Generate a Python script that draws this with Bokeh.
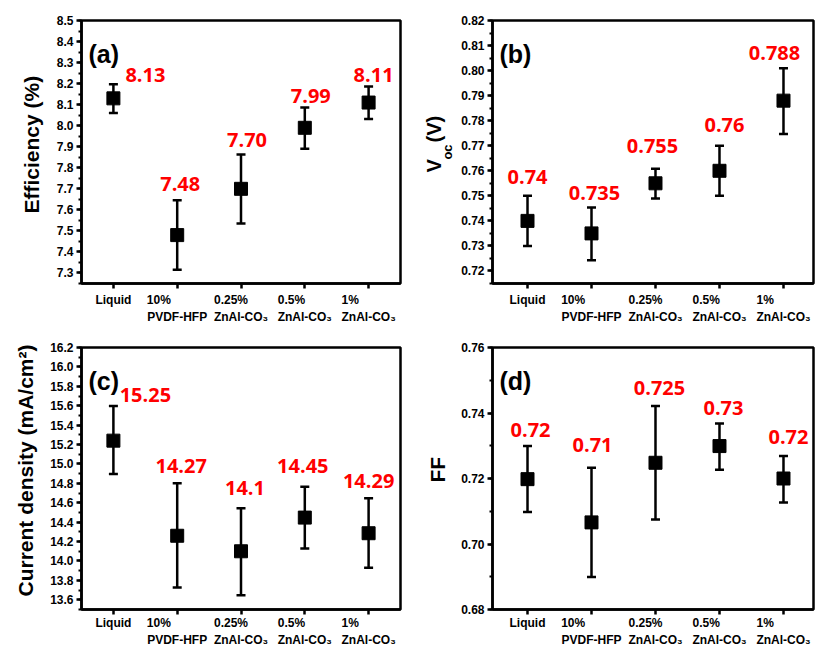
import math
from bokeh.plotting import figure
from bokeh.models import (ColumnDataSource, Whisker, TeeHead, FixedTicker,
                          NumeralTickFormatter, Label, Range1d, Title)
from bokeh.layouts import gridplot
from bokeh.embed import file_html
from bokeh.resources import INLINE
from bokeh.core.properties import value

# ---------------- data ----------------
positions = [1, 2, 3, 4, 5]
categories = ["Liquid", "10%\nPVDF-HFP", "0.25%\nZnAl-CO\u2083", "0.5%\nZnAl-CO\u2083", "1%\nZnAl-CO\u2083"]

eff_mean = [8.13, 7.48, 7.70, 7.99, 8.11]
eff_low = [8.06, 7.315, 7.535, 7.89, 8.032]
eff_high = [8.197, 7.646, 7.863, 8.087, 8.186]
eff_text = ["8.13", "7.48", "7.70", "7.99", "8.11"]

voc_mean = [0.740, 0.735, 0.755, 0.760, 0.788]
voc_low = [0.730, 0.7243, 0.7489, 0.750, 0.7747]
voc_high = [0.750, 0.7453, 0.7608, 0.770, 0.8009]
voc_text = ["0.74", "0.735", "0.755", "0.76", "0.788"]

jsc_mean = [15.24, 14.26, 14.10, 14.447, 14.286]
jsc_low = [14.896, 13.726, 13.648, 14.128, 13.929]
jsc_high = [15.596, 14.80, 14.543, 14.766, 14.646]
jsc_text = ["15.25", "14.27", "14.1", "14.45", "14.29"]

ff_mean = [0.7198, 0.7066, 0.7248, 0.7299, 0.7200]
ff_low = [0.7098, 0.6899, 0.7075, 0.7227, 0.7127]
ff_high = [0.7299, 0.7233, 0.7421, 0.7368, 0.7269]
ff_text = ["0.72", "0.71", "0.725", "0.73", "0.72"]

# ---------------- styling / layout ----------------
FONT = "Liberation Sans"
LABEL_FONT = "Open Sans"

# pixel offsets of the red value labels (dx right, dy above upper cap)
offs_a = [(32, 9), (3, 16), (6, 15), (6, 11), (5, 12)]
offs_b = [(0, 19), (3, 15), (-3, 23), (5, 21), (-9, 15)]
offs_c = [(32, 11), (4, 17), (4, 20), (-2, 21), (0, 17)]
offs_d = [(3, 16), (1, 23), (4, 18), (4, 15), (5, 19)]

# approximate advance widths (em) of the bold sans used for the tick labels
CW = {'0': .556, '1': .556, '2': .556, '5': .556, '%': .889, '.': .278, 'P': .667, 'V': .667,
      'D': .722, 'F': .611, '-': .333, 'H': .722, 'Z': .611, 'n': .611, 'A': .722, 'l': .278,
      'C': .722, 'O': .778, '\u2083': .4}
NBSP = "\u00a0"


def left_aligned(label):
    """Pad the first line of a two-line label so both lines start at the same x."""
    lines = label.split("\n")
    if len(lines) < 2:
        return label
    w = [sum(CW.get(c, .556) for c in ln) for ln in lines]
    n = max(0, round((w[1] - w[0]) / .278))
    return lines[0] + NBSP * n + "\n" + lines[1]


def tick_lists(lo, hi, step):
    k0 = math.ceil(lo / step - 1e-6)
    k1 = math.floor(hi / step + 1e-6)
    major = [round(k * step, 6) for k in range(k0, k1 + 1)]
    h = step / 2
    m0 = math.ceil(lo / h - 1e-6)
    m1 = math.floor(hi / h + 1e-6)
    minor = [round(k * h, 6) for k in range(m0, m1 + 1)]
    return major, minor


def make_panel(mean, low, high, texts, offs, yr, interval, fmt, xr, width, height,
               borders, tag, xstand):
    p = figure(width=width, height=height, output_backend="svg", toolbar_location=None,
               x_range=Range1d(*xr), y_range=Range1d(*yr))
    p.min_border_left, p.min_border_right, p.min_border_top, p.min_border_bottom = borders
    p.background_fill_color = "white"
    p.border_fill_color = "white"
    p.outline_line_color = "black"
    p.outline_line_width = 2.5
    p.xgrid.grid_line_color = None
    p.ygrid.grid_line_color = None

    src = ColumnDataSource(dict(
        x=positions, y=mean, lower=low, upper=high, label=texts,
        xo=[o[0] for o in offs], yo=[-o[1] for o in offs]))

    w = Whisker(base="x", upper="upper", lower="lower", source=src,
                line_color="black", line_width=2.5,
                upper_head=TeeHead(size=9, line_width=2.5, line_color="black"),
                lower_head=TeeHead(size=9, line_width=2.5, line_color="black"))
    p.add_layout(w)
    p.scatter("x", "y", source=src, marker="square", size=13, color="black")
    p.text(x="x", y="upper", text="label", source=src, x_offset="xo", y_offset="yo",
           text_color="#ff0000", text_font=value(LABEL_FONT), text_font_style="bold",
           text_font_size=value("20px"), text_align="center", text_baseline="middle")

    # x axis
    xa = p.xaxis[0]
    xa.ticker = FixedTicker(ticks=positions)
    xa.major_label_overrides = {pos: left_aligned(cat) for pos, cat in zip(positions, categories)}
    xa.minor_tick_line_color = None
    xa.major_tick_in = 0
    xa.major_tick_out = 5
    xa.major_tick_line_width = 2.5
    xa.axis_line_width = 2.5
    xa.major_label_standoff = xstand
    xa.major_label_text_font = FONT
    xa.major_label_text_font_style = "bold"
    xa.major_label_text_font_size = "12px"
    xa.major_label_text_color = "black"
    xa.major_label_text_line_height = 1.25

    # y axis
    ya = p.yaxis[0]
    major, minor = tick_lists(yr[0], yr[1], interval)
    ya.ticker = FixedTicker(ticks=major, minor_ticks=minor)
    ya.formatter = NumeralTickFormatter(format=fmt)
    ya.major_tick_in = 0
    ya.major_tick_out = 5
    ya.minor_tick_in = 0
    ya.minor_tick_out = 3
    ya.major_tick_line_width = 2.5
    ya.minor_tick_line_width = 2
    ya.axis_line_width = 2.5
    ya.major_label_standoff = 3
    ya.major_label_text_font = FONT
    ya.major_label_text_font_style = "bold"
    ya.major_label_text_font_size = "12px"
    ya.major_label_text_color = "black"

    p.add_layout(Label(x=xr[0], y=yr[1], x_offset=7, y_offset=-33, text=tag,
                       text_font=FONT, text_font_style="bold", text_font_size="25px",
                       text_baseline="alphabetic", text_color="black"))
    return p


def add_ylabel(p, text, size, offset, standoff):
    p.add_layout(Title(text=text, align="left", offset=offset, standoff=standoff,
                       text_font=FONT, text_font_style="bold", text_font_size=size,
                       text_color="black"), "left")


pa = make_panel(eff_mean, eff_low, eff_high, eff_text, offs_a, (7.25, 8.5), 0.1, "0.0",
                (0.5, 5.5), 412, 327, (80, 12, 20, 44), "(a)", 4)
pb = make_panel(voc_mean, voc_low, voc_high, voc_text, offs_b, (0.715, 0.82), 0.01, "0.00",
                (0.453, 5.469), 404, 327, (80, 3, 20, 44), "(b)", 4)
pc = make_panel(jsc_mean, jsc_low, jsc_high, jsc_text, offs_c, (13.5, 16.2), 0.2, "0.0",
                (0.5, 5.5), 412, 323, (80, 12, 20, 40), "(c)", 1)
pd = make_panel(ff_mean, ff_low, ff_high, ff_text, offs_d, (0.68, 0.76), 0.02, "0.00",
                (0.453, 5.469), 404, 323, (80, 3, 20, 40), "(d)", 1)

add_ylabel(pa, "Efficiency (%)", "21px", 70, 21)
add_ylabel(pc, "Current density (mA/cm\u00b2)", "21px", 13, 22)
add_ylabel(pd, "FF", "21px", 127, 20)

# V_oc (V) label for panel (b): subscript "oc" as the axis label, "V (V)" as an outer title
yb = pb.yaxis[0]
yb.axis_label = "oc"
yb.axis_label_text_font = FONT
yb.axis_label_text_font_style = "bold"
yb.axis_label_text_font_size = "13px"
yb.axis_label_text_color = "black"
yb.axis_label_standoff = 3
add_ylabel(pb, "V" + NBSP * 3 + "(V)", "20px", 111, -14)

grid = gridplot([[pa, pb], [pc, pd]], toolbar_location=None)

open("out.html", "w").write(file_html(grid, INLINE))
